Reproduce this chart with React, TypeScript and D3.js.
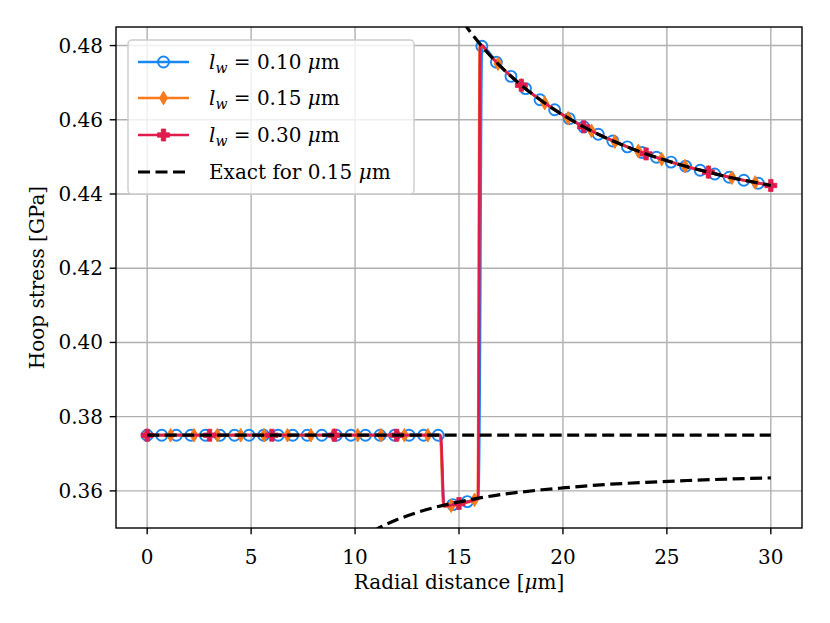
import * as d3 from 'd3';

type Pt = [number, number];

// marker points, l_w = 0.10 um (every 0.7 um)
const lw010Marks: Pt[] = [
  [0, 0.375], [0.7, 0.375], [1.4, 0.375], [2.1, 0.375], [2.8, 0.375], [3.5, 0.375],
  [4.2, 0.375], [4.9, 0.375], [5.6, 0.375], [6.3, 0.375], [7.0, 0.375], [7.7, 0.375],
  [8.4, 0.375], [9.1, 0.375], [9.8, 0.375], [10.5, 0.375], [11.2, 0.375], [11.9, 0.375],
  [12.6, 0.375], [13.3, 0.375], [14.0, 0.375],
  [14.7, 0.3563], [15.4, 0.3571],
  [16.1, 0.4798], [16.8, 0.4755], [17.5, 0.4717], [18.2, 0.4684], [18.9, 0.4654],
  [19.6, 0.4627], [20.3, 0.4603], [21.0, 0.4581], [21.7, 0.4561], [22.4, 0.4543],
  [23.1, 0.4527], [23.8, 0.4512], [24.5, 0.4499], [25.2, 0.4486], [25.9, 0.4475],
  [26.6, 0.4464], [27.3, 0.4454], [28.0, 0.4445], [28.7, 0.4437], [29.4, 0.4429],
];
const lw010Extra: Pt[] = [[14.1, 0.375], [14.28, 0.356], [15.95, 0.358], [30, 0.4423]];

// l_w = 0.15 um (every 1.125 um)
const lw015Marks: Pt[] = [
  [0, 0.375], [1.125, 0.375], [2.25, 0.375], [3.375, 0.375], [4.5, 0.375], [5.625, 0.375],
  [6.75, 0.375], [7.875, 0.375], [9.0, 0.375], [10.125, 0.375], [11.25, 0.375],
  [12.375, 0.375], [13.5, 0.375],
  [14.625, 0.356], [15.75, 0.3576],
  [16.875, 0.4751], [18.0, 0.4693], [19.125, 0.4645], [20.25, 0.4604], [21.375, 0.457],
  [22.5, 0.4541], [23.625, 0.4516], [24.75, 0.4494], [25.875, 0.4475], [27.0, 0.4459],
  [28.125, 0.4444], [29.25, 0.4431],
];
const lw015Extra: Pt[] = [[14.1, 0.375], [14.25, 0.3558], [15.9, 0.358], [16.0, 0.4802], [16.4, 0.4779], [30, 0.4423]];

// l_w = 0.30 um (every 3 um)
const lw030Marks: Pt[] = [
  [0, 0.375], [3, 0.375], [6, 0.375], [9, 0.375], [12, 0.375],
  [15, 0.3566],
  [18, 0.4693], [21, 0.4581], [24, 0.4508], [27, 0.4459], [30, 0.4423],
];
const lw030Extra: Pt[] = [
  [14.12, 0.375], [14.28, 0.3559], [15.92, 0.358], [16.02, 0.4803], [16.5, 0.4773],
  [17.0, 0.4744], [19.5, 0.4631], [22.5, 0.4541], [25.5, 0.4481], [28.5, 0.4439],
];

// exact solution for 0.15 um
const exactCore: Pt[] = [[0, 0.375], [30, 0.375]];
const exactLower: Pt[] = [
  [10.8, 0.349], [11, 0.3496], [12, 0.3522], [13, 0.3542], [14, 0.3558], [15, 0.357],
  [16, 0.3581], [17, 0.359], [18, 0.3597], [19, 0.3603], [20, 0.3608], [22, 0.3617],
  [24, 0.3623], [26, 0.3628], [28, 0.3632], [30, 0.3635],
];
const exactUpper: Pt[] = [
  [15.2, 0.4863], [15.5, 0.484], [16, 0.4805], [17, 0.4744], [18, 0.4693], [19, 0.465],
  [20, 0.4613], [21, 0.4581], [22, 0.4553], [23, 0.4529], [24, 0.4508], [25, 0.449],
  [26, 0.4473], [27, 0.4459], [28, 0.4445], [29, 0.4434], [30, 0.4423],
];

const xTicks = [0, 5, 10, 15, 20, 25, 30];
const yTicks = [0.36, 0.38, 0.4, 0.42, 0.44, 0.46, 0.48];
const legendValues = ['0.10', '0.15', '0.30'];

const W = 830;
const H = 623;
const FONT = '"DejaVu Serif", "Liberation Serif", serif';
const FS = 20;
const BLUE = '#1a86f2';
const ORANGE = '#f87a1a';
const RED = '#e01c4c';

const x = d3.scaleLinear().domain([-1.5, 31.5]).range([116, 802]);
const y = d3.scaleLinear().domain([0.35, 0.485]).range([528, 27]);

const line = d3.line<Pt>().x(d => x(d[0])).y(d => y(d[1])).curve(d3.curveMonotoneX);

function merged(a: Pt[], b: Pt[]): Pt[] {
  return [...a, ...b].sort((p, q) => p[0] - q[0]);
}

function Circle({ cx, cy }: { cx: number; cy: number }) {
  return <circle cx={cx} cy={cy} r={5.5} fill="none" stroke={BLUE} strokeWidth={1.9} />;
}

function Diamond({ cx, cy }: { cx: number; cy: number }) {
  const w = 4, h = 6.8;
  return <path d={`M${cx},${cy - h}L${cx + w},${cy}L${cx},${cy + h}L${cx - w},${cy}Z`} fill={ORANGE} stroke={ORANGE} strokeWidth={1} />;
}

function Plus({ cx, cy }: { cx: number; cy: number }) {
  const a = 6, b = 2.2;
  const d = `M${cx - b},${cy - a}H${cx + b}V${cy - b}H${cx + a}V${cy + b}H${cx + b}V${cy + a}H${cx - b}V${cy + b}H${cx - a}V${cy - b}H${cx - b}Z`;
  return <path d={d} fill={RED} stroke={RED} strokeWidth={0.8} />;
}

const series = [
  { marks: lw010Marks, extra: lw010Extra, color: BLUE, Marker: Circle },
  { marks: lw015Marks, extra: lw015Extra, color: ORANGE, Marker: Diamond },
  { marks: lw030Marks, extra: lw030Extra, color: RED, Marker: Plus },
];

export default function App() {
  const [x0, x1] = x.range();
  const [y0, y1] = y.range();
  const legendRowY = [62, 98, 135, 172];

  return (
    <svg width={W} height={H} style={{ position: 'absolute', left: 0, top: 0, background: '#fff' }} fontFamily={FONT}>
      <defs>
        <clipPath id="plot-area">
          <rect x={x0} y={y1} width={x1 - x0} height={y0 - y1} />
        </clipPath>
      </defs>
      <rect width={W} height={H} fill="#fff" />

      {/* grid */}
      <g stroke="#b0b0b0" strokeWidth={1.4}>
        {xTicks.map(t => <line key={'gx' + t} x1={x(t)} x2={x(t)} y1={y1} y2={y0} />)}
        {yTicks.map(t => <line key={'gy' + t} x1={x0} x2={x1} y1={y(t)} y2={y(t)} />)}
      </g>

      <g clipPath="url(#plot-area)">
        {series.map((s, i) => (
          <g key={i}>
            <path d={line(merged(s.marks, s.extra)) || ''} fill="none" stroke={s.color} strokeWidth={2.7} strokeLinejoin="round" />
            {s.marks.map((p, j) => <s.Marker key={j} cx={x(p[0])} cy={y(p[1])} />)}
          </g>
        ))}
        {[exactCore, exactLower, exactUpper].map((pts, i) => (
          <path key={'ex' + i} d={line(pts) || ''} fill="none" stroke="#000" strokeWidth={3.2} strokeDasharray="12,5.5" />
        ))}
      </g>

      {/* frame */}
      <rect x={x0} y={y1} width={x1 - x0} height={y0 - y1} fill="none" stroke="#000" strokeWidth={1.4} />

      {/* x axis */}
      <g fontSize={FS} textAnchor="middle">
        {xTicks.map(t => (
          <g key={'xt' + t}>
            <line x1={x(t)} x2={x(t)} y1={y0} y2={y0 + 6.3} stroke="#000" strokeWidth={1.4} />
            <text x={x(t)} y={y0 + 36}>{t}</text>
          </g>
        ))}
      </g>
      {/* y axis */}
      <g fontSize={FS} textAnchor="end">
        {yTicks.map(t => (
          <g key={'yt' + t}>
            <line x1={x0 - 6.3} x2={x0} y1={y(t)} y2={y(t)} stroke="#000" strokeWidth={1.4} />
            <text x={x0 - 13} y={y(t) + 7}>{t.toFixed(2)}</text>
          </g>
        ))}
      </g>

      <text x={(x0 + x1) / 2} y={589} fontSize={FS} textAnchor="middle">
        Radial distance [<tspan fontStyle="italic">μ</tspan>m]
      </text>
      <text transform={`translate(44,${(y0 + y1) / 2}) rotate(-90)`} fontSize={FS} textAnchor="middle">
        Hoop stress [GPa]
      </text>

      {/* legend */}
      <rect x={128} y={40} width={286} height={154} rx={4} fill="#fff" fillOpacity={0.8} stroke="#cccccc" strokeWidth={1.4} />
      {series.map((s, i) => (
        <g key={'lg' + i}>
          <line x1={138} x2={189} y1={legendRowY[i]} y2={legendRowY[i]} stroke={s.color} strokeWidth={2.7} />
          <s.Marker cx={163.5} cy={legendRowY[i]} />
          <text x={209} y={legendRowY[i] + 7} fontSize={FS}>
            <tspan fontStyle="italic">l</tspan>
            <tspan fontStyle="italic" fontSize={14} dy={4}>w</tspan>
            <tspan dy={-4}> = {legendValues[i]} </tspan>
            <tspan fontStyle="italic">μ</tspan>
            <tspan>m</tspan>
          </text>
        </g>
      ))}
      <line x1={138} x2={189} y1={legendRowY[3]} y2={legendRowY[3]} stroke="#000" strokeWidth={3.2} strokeDasharray="12,5.5" />
      <text x={209} y={legendRowY[3] + 7} fontSize={FS}>
        Exact for 0.15 <tspan fontStyle="italic">μ</tspan>m
      </text>
    </svg>
  );
}
